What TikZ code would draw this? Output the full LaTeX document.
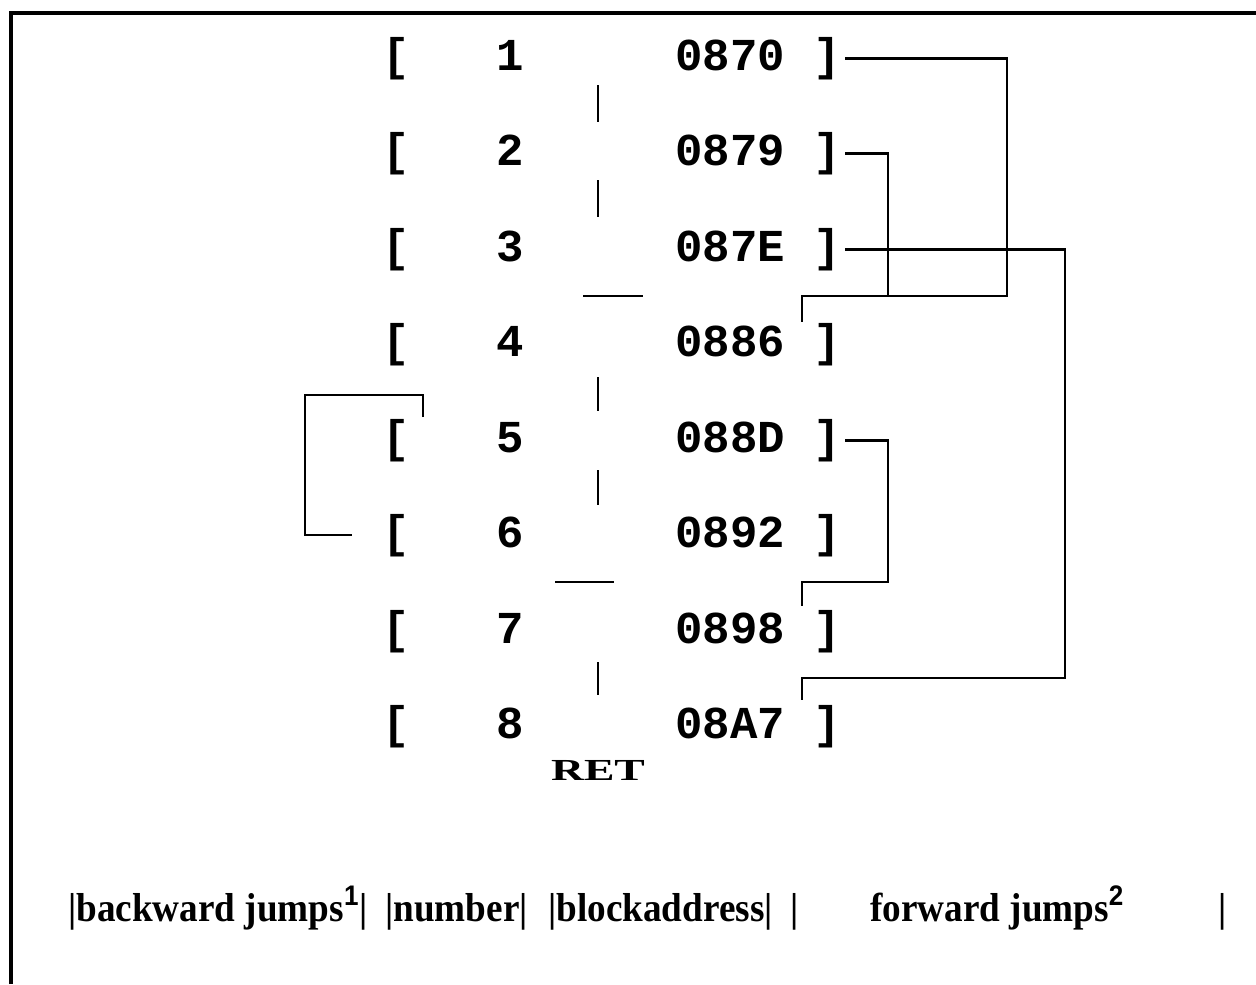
\documentclass[tikz,border=0pt]{standalone}
\usepackage{fontspec}
\setmainfont{Liberation Serif}
\setsansfont{Liberation Sans}
\setmonofont{Liberation Mono}
\usetikzlibrary{calc}
\newcommand{\legtxt}[1]{\scalebox{0.92}[1]{#1}}
\begin{document}
\begin{tikzpicture}[x=0.02cm,y=-0.02cm,
  conn/.style={line width=1.6pt},
  midtick/.style={line width=1.6pt},
  mono/.style={font=\ttfamily\bfseries\fontsize{26}{30}\selectfont, inner sep=0pt, anchor=base},
  lbl/.style={font=\bfseries\fontsize{23}{27}\selectfont, inner sep=0pt, anchor=base west}]
\useasboundingbox (0,0) rectangle (1256,984);
% frame
\draw[line width=1.8pt] (11,984) -- (11,13) -- (1256,13);
% rows
\foreach \i/\a in {1/0870,2/0879,3/087E,4/0886,5/088D,6/0892,7/0898,8/08A7}{
  \pgfmathsetmacro\yy{70+95.5*(\i-1)}
  \node[mono] (bl\i) at (396,\yy) {[};
  \node[mono] (n\i) at (510,\yy) {\i};
  \node[mono] (a\i) at (730,\yy) {\a};
  \node[mono] (br\i) at (827,\yy) {]};
}
\node[mono] (ret) at (598,780) {\scalebox{1}[0.67]{\rmfamily\bfseries RET}};
% middle marks
\draw[midtick] (598,85) -- (598,122);
\draw[midtick] (598,180) -- (598,217);
\draw[midtick] (583,296) -- (643,296);
\draw[midtick] (598,377) -- (598,411);
\draw[midtick] (598,470) -- (598,505);
\draw[midtick] (555,582) -- (614,582);
\draw[midtick] (598,662) -- (598,695);
% forward jumps
\coordinate (endA) at (802,322);
\coordinate (endC) at (802,700);
\coordinate (endD) at (802,606);
\draw[conn] ($(br1.east)+(4,0)$) -| (1007,296) -| (endA);
\draw[conn] ($(br2.east)+(4,0)$) -| (888,296);
\draw[conn] ($(br3.east)+(4,0)$) -| (1065,678) -| (endC);
\draw[conn] ($(br5.east)+(4,0)$) -| (888,582) -| (endD);
% backward jump
\coordinate (hook) at (423,417);
\draw[conn] (hook) -- (423,395) -- (305,395) |- ($(bl6.base west)+(-30,-12.5)$);
% legend
\node[lbl] (t1) at (68,921) {\legtxt{|backward jumps\textsuperscript{\sffamily 1}|}};
\node[lbl] (t2) at (385,921) {\legtxt{|number|}};
\node[lbl] (t3) at (548,921) {\legtxt{|blockaddress|}};
\node[lbl] (t4) at (790,921) {\legtxt{|}};
\node[lbl] (t5) at (870,921) {\legtxt{forward jumps\textsuperscript{\sffamily 2}}};
\node[lbl] (t6) at (1218,921) {\legtxt{|}};
\end{tikzpicture}
\end{document}
